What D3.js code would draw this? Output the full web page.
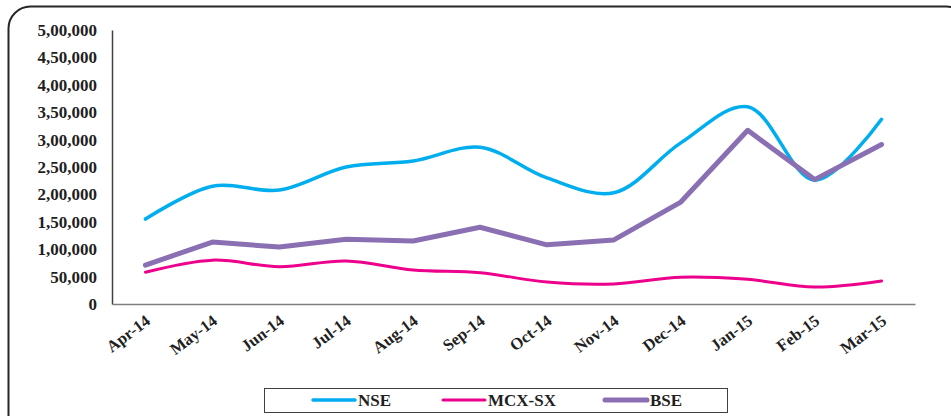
<!DOCTYPE html>
<html>
<head>
<meta charset="utf-8">
<script src="https://cdn.jsdelivr.net/npm/d3@7"></script>
<style>
  body { margin: 0; background: #fff; }
  text { font-family: "Liberation Serif", "DejaVu Serif", serif; font-weight: bold; fill: #1f1f1f; }
</style>
</head>
<body>
<div id="chart"></div>
<script>
// chart data
var months = ["Apr-14", "May-14", "Jun-14", "Jul-14", "Aug-14", "Sep-14",
	"Oct-14", "Nov-14", "Dec-14", "Jan-15", "Feb-15", "Mar-15"];
var nse = [155000, 215000, 208000, 250000, 261000, 286000, 230000, 203000, 294000, 360000, 226000, 337000];
var mcx = [58000, 80000, 68000, 78500, 62000, 57000, 40000, 36500, 49000, 45000, 31000, 42000];
var bse = [71000, 113000, 104000, 118000, 115000, 140000, 108000, 117000, 186000, 317000, 227000, 291000];
var yTicks = [0, 50000, 100000, 150000, 200000, 250000, 300000, 350000, 400000, 450000, 500000];
var seriesNames = ["NSE", "MCX-SX", "BSE"];

var width = 951,
	height = 416;

var svg = d3.select("#chart")
	.append("svg")
	.attr("width", width)
	.attr("height", height);

// rounded frame, runs off the right and bottom edges
svg.append("rect")
	.attr("x", 8.5)
	.attr("y", 6.5)
	.attr("width", 960)
	.attr("height", 440)
	.attr("rx", 22)
	.style("fill", "none")
	.style("stroke", "#262626")
	.style("stroke-width", 2);

// scales
var x = d3.scaleBand()
	.domain(months)
	.range([112, 915]);

var y = d3.scaleLinear()
	.domain([0, 500000])
	.range([304, 30]);

// indian style number grouping: 5,00,000
function lakhFormat(v) {
	if (v === 0) return "0";
	var s = String(v);
	var last3 = s.slice(-3);
	var rest = s.slice(0, -3);
	rest = rest.replace(/\B(?=(\d{2})+(?!\d))/g, ",");
	return rest + "," + last3;
}

var serif = "Liberation Serif, DejaVu Serif, serif";

// y axis
var yAxis = svg.append("g")
	.attr("transform", "translate(112,0)")
	.call(d3.axisLeft(y).tickValues(yTicks).tickFormat(lakhFormat).tickSize(0).tickPadding(15));
yAxis.select(".domain").style("stroke", "#404040").style("stroke-width", 1.5);
yAxis.selectAll("text")
	.style("font-size", "17px")
	.style("font-family", serif)
	.style("font-weight", "bold")
	.style("fill", "#1f1f1f");

// x axis
var xAxis = svg.append("g")
	.attr("transform", "translate(0,304)")
	.call(d3.axisBottom(x).tickSize(0).tickPadding(0));
xAxis.select(".domain").style("stroke", "#808080").style("stroke-width", 1.5);
xAxis.selectAll("text")
	.style("font-size", "16.5px")
	.style("font-family", serif)
	.style("font-weight", "bold")
	.style("fill", "#1f1f1f")
	.style("text-anchor", "end")
	.attr("dy", null)
	.attr("y", 0)
	.attr("transform", "translate(6,19) rotate(-37)");

function cx(d, i) { return x(months[i]) + x.bandwidth() / 2; }

// lines
var smooth = d3.line()
	.x(cx)
	.y(function(d) { return y(d); })
	.curve(d3.curveCatmullRom.alpha(0.5));

var straight = d3.line()
	.x(cx)
	.y(function(d) { return y(d); });

var lines = [
	{ name: "NSE", values: nse, color: "#00AEEF", width: 3.5, gen: smooth },
	{ name: "MCX-SX", values: mcx, color: "#EC008C", width: 3, gen: smooth },
	{ name: "BSE", values: bse, color: "#8A6FB3", width: 5, gen: straight }
];

svg.selectAll(".series")
	.data(lines)
	.enter().append("path")
	.attr("class", "series")
	.attr("d", function(d) { return d.gen(d.values); })
	.style("fill", "none")
	.style("stroke", function(d) { return d.color; })
	.style("stroke-width", function(d) { return d.width; })
	.style("stroke-linejoin", "round")
	.style("stroke-linecap", "round");

// legend
var legend = svg.append("g");
legend.append("rect")
	.attr("x", 264.5)
	.attr("y", 388.5)
	.attr("width", 463)
	.attr("height", 24)
	.style("fill", "#fff")
	.style("stroke", "#404040")
	.style("stroke-width", 1);

var legendX = [313, 443, 605];
var item = legend.selectAll(".item")
	.data(lines)
	.enter().append("g")
	.attr("class", "item")
	.attr("transform", function(d, i) { return "translate(" + legendX[i] + ",400)"; });

item.append("line")
	.attr("x1", 0)
	.attr("x2", 42)
	.style("stroke", function(d) { return d.color; })
	.style("stroke-width", function(d) { return d.width; })
	.style("stroke-linecap", "round");

item.append("text")
	.attr("x", 45)
	.attr("dy", "0.35em")
	.style("font-size", "17px")
	.text(function(d, i) { return seriesNames[i]; });
</script>
</body>
</html>
